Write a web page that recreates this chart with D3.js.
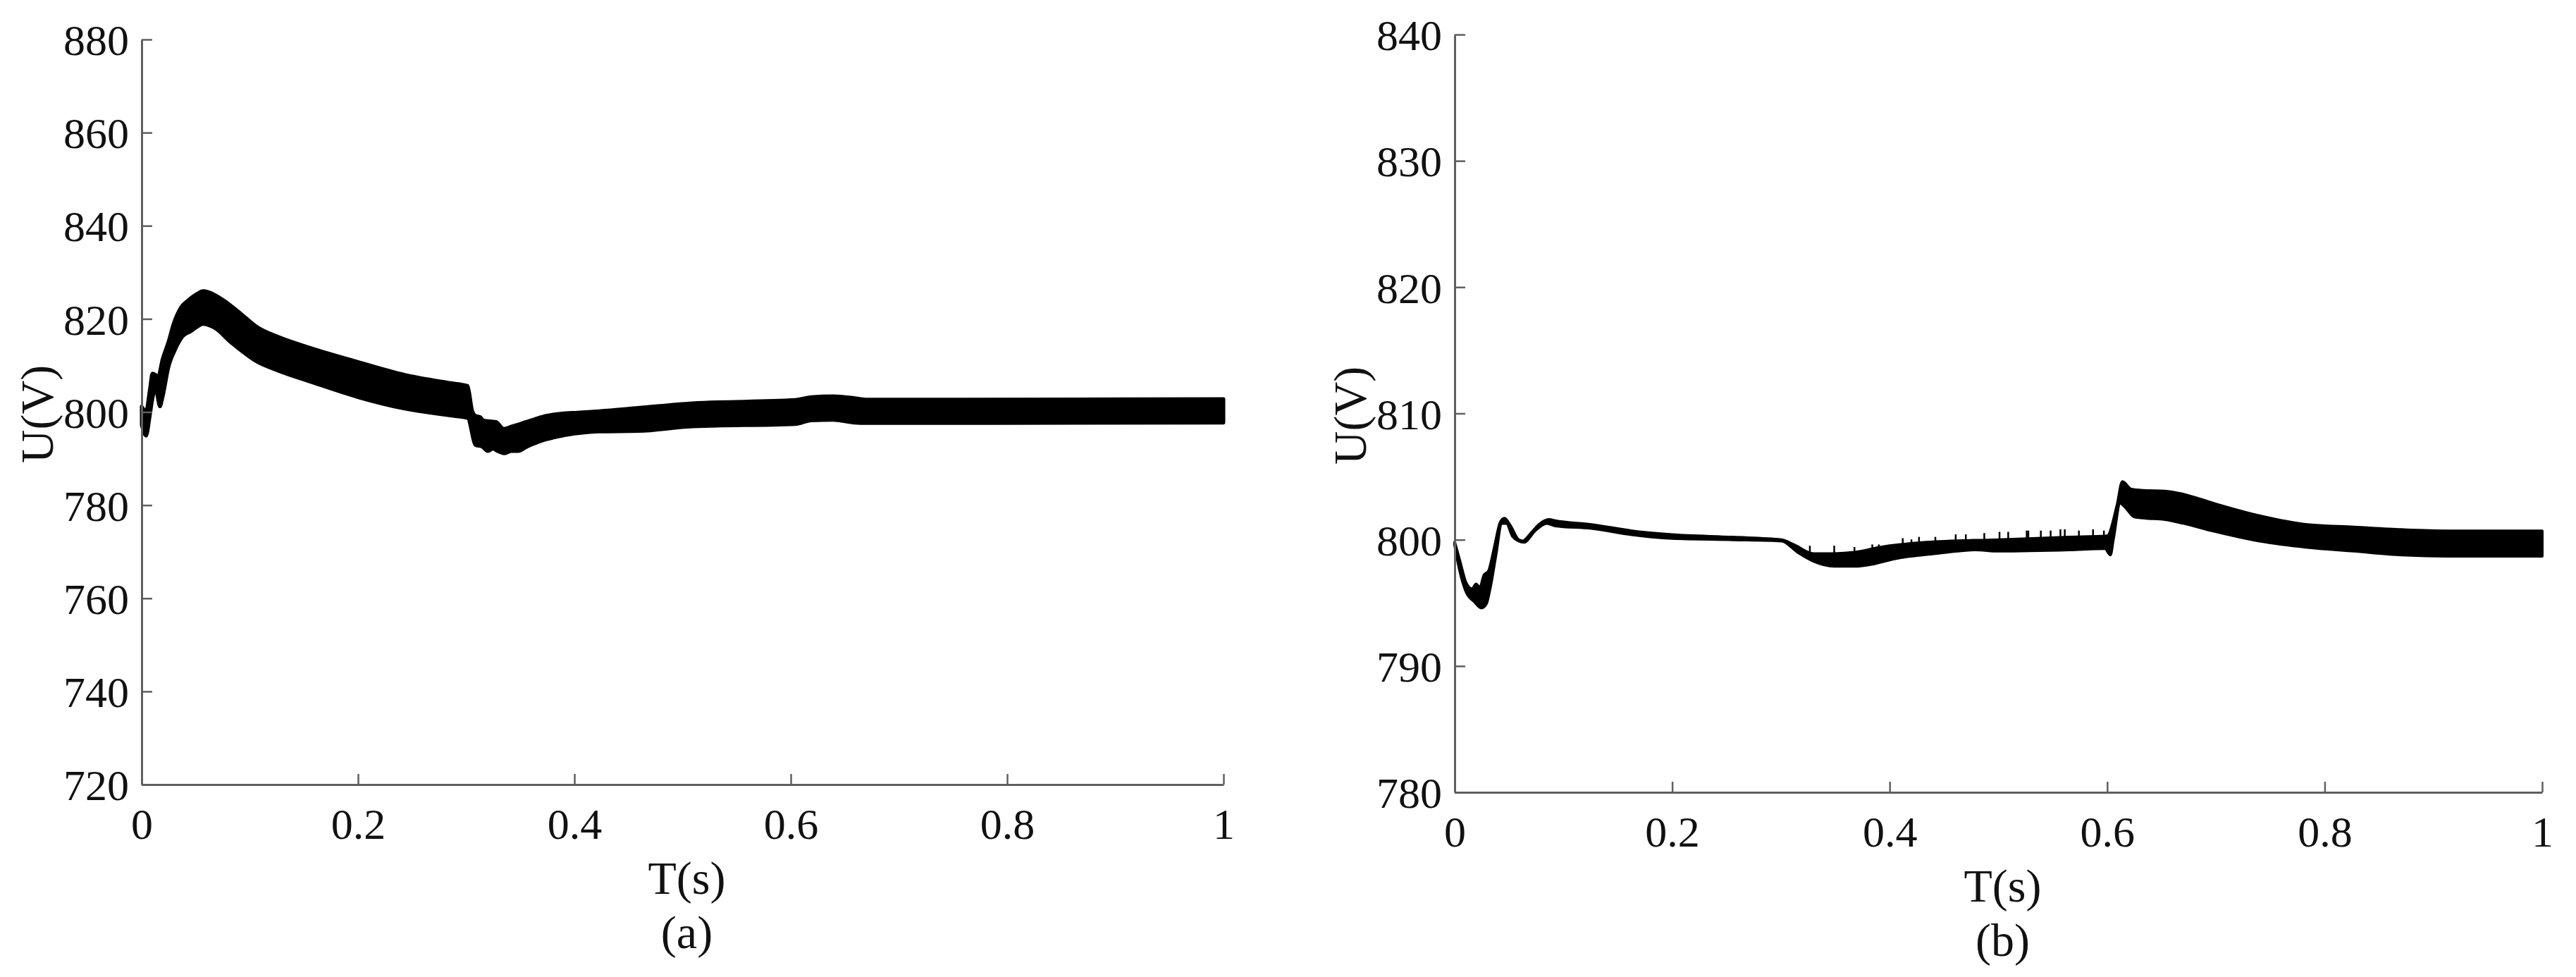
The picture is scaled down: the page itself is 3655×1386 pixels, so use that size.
<!DOCTYPE html>
<html>
<head>
<meta charset="utf-8">
<script src="https://cdn.jsdelivr.net/npm/d3@7"></script>
<style>
  html, body { margin: 0; padding: 0; background: #fff; }
  svg { display: block; }
</style>
</head>
<body>
<svg id="chart" width="3655" height="1386"></svg>
<script>
// ---------- DATA ----------
const xTicks = [0, 0.2, 0.4, 0.6, 0.8, 1];
const xTickLabels = ["0", "0.2", "0.4", "0.6", "0.8", "1"];
const aYTicks = [720, 740, 760, 780, 800, 820, 840, 860, 880];
const bYTicks = [780, 790, 800, 810, 820, 830, 840];

// (a) upper / lower envelope of U(V)
const aUpT = [0, 0.004, 0.0076, 0.0099, 0.0128, 0.0148, 0.0192, 0.025, 0.0294, 0.0367, 0.0425, 0.0512, 0.057, 0.0657, 0.0745, 0.0919, 0.1065, 0.1268, 0.1559, 0.1995, 0.2432, 0.2868, 0.2999, 0.3013, 0.3057, 0.3086, 0.313, 0.316, 0.3275, 0.3348, 0.342, 0.3595, 0.374, 0.3886, 0.403, 0.423, 0.459, 0.509, 0.604, 0.619, 0.639, 0.659, 0.669, 0.758, 1.0];
const aUpV = [801.2, 800.2, 805.0, 808.3, 808.0, 807.3, 811.3, 815.3, 818.9, 822.6, 823.9, 825.4, 826.0, 825.4, 824.2, 821.1, 818.3, 816.1, 813.8, 810.8, 808.0, 806.2, 805.7, 805.6, 800.2, 799.2, 798.9, 798.2, 797.9, 796.4, 796.9, 798.2, 799.2, 799.7, 799.9, 800.2, 800.9, 801.9, 802.6, 803.2, 803.4, 803.0, 802.7, 802.7, 802.8];
const aLoT = [0, 0.0041, 0.0076, 0.0099, 0.0128, 0.0169, 0.0192, 0.025, 0.0308, 0.0381, 0.0454, 0.057, 0.067, 0.0832, 0.1065, 0.1268, 0.1559, 0.1995, 0.2432, 0.2868, 0.3013, 0.3086, 0.3144, 0.32, 0.3246, 0.329, 0.3348, 0.342, 0.348, 0.3566, 0.374, 0.3886, 0.403, 0.423, 0.459, 0.509, 0.604, 0.619, 0.639, 0.659, 0.669, 1.0];
const aLoV = [797.2, 794.9, 799.2, 802.7, 805.0, 801.2, 803.0, 809.8, 813.3, 816.3, 817.3, 818.9, 818.1, 814.8, 810.8, 808.8, 806.5, 803.2, 800.7, 799.2, 798.7, 792.9, 792.6, 791.6, 792.1, 791.6, 791.1, 791.6, 791.6, 792.6, 794.1, 794.9, 795.4, 795.8, 795.9, 796.9, 797.4, 798.2, 798.3, 797.7, 797.6, 797.7];

// (b) upper / lower envelope of U(V)
const bUpT = [0, 0.0048, 0.0104, 0.016, 0.0197, 0.023, 0.027, 0.031, 0.0365, 0.042, 0.0458, 0.0513, 0.0588, 0.0625, 0.07, 0.0774, 0.0867, 0.0923, 0.1257, 0.163, 0.2, 0.256, 0.3006, 0.312, 0.33, 0.349, 0.3676, 0.391, 0.434, 0.5, 0.565, 0.6, 0.609, 0.614, 0.6222, 0.633, 0.653, 0.67, 0.697, 0.74, 0.784, 0.827, 0.871, 0.914, 1.0];
const bUpV = [799.8, 798.3, 796.6, 796.1, 796.5, 796.2, 797.2, 797.5, 799.4, 801.4, 801.7, 801.1, 800.0, 799.9, 800.5, 801.2, 801.6, 801.5, 801.2, 800.7, 800.4, 800.2, 800.0, 799.6, 798.9, 798.9, 799.0, 799.4, 799.8, 800.0, 800.2, 800.3, 802.7, 804.6, 804.0, 803.9, 803.85, 803.6, 802.9, 801.9, 801.2, 801.0, 800.8, 800.7, 800.7];
const bLoT = [0, 0.0048, 0.0104, 0.018, 0.0246, 0.029, 0.0327, 0.0383, 0.043, 0.0476, 0.053, 0.0588, 0.064, 0.0737, 0.0848, 0.0923, 0.1257, 0.163, 0.2, 0.256, 0.3006, 0.3155, 0.33, 0.349, 0.3676, 0.386, 0.405, 0.442, 0.479, 0.5, 0.565, 0.598, 0.603, 0.6056, 0.612, 0.6163, 0.6251, 0.636, 0.653, 0.67, 0.697, 0.74, 0.784, 0.827, 0.871, 0.914, 1.0];
const bLoV = [799.6, 797.5, 795.9, 795.1, 794.6, 794.9, 796.2, 799.0, 801.3, 801.3, 800.3, 799.9, 799.8, 800.7, 801.3, 801.1, 800.9, 800.4, 800.1, 800.0, 799.9, 799.0, 798.3, 797.9, 797.9, 798.1, 798.5, 798.9, 799.2, 799.1, 799.2, 799.3, 798.8, 800.0, 802.9, 802.6, 801.8, 801.7, 801.6, 801.3, 800.7, 799.9, 799.4, 799.1, 798.8, 798.7, 798.7];

// (b) narrow spikes on the upper edge between 0.32 s and 0.6 s
const bSpikeT = [0.3266, 0.349, 0.3676, 0.384, 0.39, 0.412, 0.42, 0.427, 0.442, 0.4607, 0.47, 0.487, 0.501, 0.509, 0.526, 0.5275, 0.539, 0.548, 0.557, 0.561, 0.574, 0.587, 0.597];
const bSpikeV = [799.3, 799.3, 799.2, 799.4, 799.4, 799.9, 799.8, 800.0, 800.0, 800.2, 800.2, 800.3, 800.4, 800.4, 800.5, 800.5, 800.5, 800.5, 800.6, 800.6, 800.5, 800.6, 800.5];

// ---------- DRAW ----------
const svg = d3.select("#chart");
const axisColor = "#5f5f5f";
const serif = "'Liberation Serif', 'Times New Roman', Times, serif";

function panel(cfg) {
  const x = d3.scaleLinear().domain([0, 1]).range([cfg.x0, cfg.x1]);
  const y = d3.scaleLinear().domain(cfg.yDomain).range([cfg.yBottom, cfg.yTop]);
  const g = svg.append("g");

  // envelope band: smooth upper edge forward, smooth lower edge backward
  const up = cfg.upT.map((t, i) => [t, cfg.upV[i]]);
  const lo = cfg.loT.map((t, i) => [t, cfg.loV[i]]).reverse();
  const line = d3.line().x(d => x(d[0])).y(d => y(d[1])).curve(d3.curveMonotoneX);
  const dUp = line(up);
  const dLo = line(lo);
  g.append("path")
    .attr("d", dUp + "L" + dLo.slice(1) + "Z")
    .attr("fill", "#000")
    .attr("stroke", "#000")
    .attr("stroke-width", cfg.strokeW)
    .attr("stroke-linejoin", "round");

  if (cfg.spikeT) {
    g.selectAll("line.spike").data(cfg.spikeT).enter().append("line")
      .attr("class", "spike")
      .attr("x1", d => x(d)).attr("x2", d => x(d))
      .attr("y1", (d, i) => y(cfg.spikeV[i]) - 4)
      .attr("y2", (d, i) => y(cfg.spikeV[i]) + 16)
      .attr("stroke", "#000").attr("stroke-width", 2.5);
  }

  // axes
  const xAxis = d3.axisBottom(x).tickValues(xTicks)
    .tickFormat((d, i) => xTickLabels[i])
    .tickSizeInner(-15).tickSizeOuter(0).tickPadding(33);
  const gx = g.append("g").attr("transform", `translate(0,${cfg.yBottom})`).call(xAxis);

  const yAxis = d3.axisLeft(y).tickValues(cfg.yTicks)
    .tickFormat(d3.format("d"))
    .tickSizeInner(-15).tickSizeOuter(0).tickPadding(18);
  const gy = g.append("g").attr("transform", `translate(${cfg.x0},0)`).call(yAxis);

  [gx, gy].forEach(a => {
    a.attr("font-family", serif).attr("font-size", 62);
    a.select(".domain").attr("stroke", axisColor).attr("stroke-width", 3);
    a.selectAll(".tick line").attr("stroke", axisColor).attr("stroke-width", 2.5);
    a.selectAll(".tick text").attr("font-family", serif).attr("font-size", 62).attr("fill", "#111");
  });
  gy.selectAll(".tick text").attr("dy", "0.35em");

  const cx = (cfg.x0 + cfg.x1) / 2 + 6;
  const lbl = (sel) => sel.attr("font-family", serif).attr("font-size", 66).attr("fill", "#111").attr("text-anchor", "middle");
  g.append("text").call(lbl)
    .attr("x", cx).attr("y", cfg.yBottom + 155)
    .text("T(s)");
  g.append("text").call(lbl)
    .attr("x", cx).attr("y", cfg.yBottom + 232)
    .text(cfg.caption);
  g.append("text").call(lbl)
    .attr("transform", `translate(${cfg.x0 - 126},${(cfg.yTop + cfg.yBottom) / 2 + 3}) rotate(-90)`)
    .text("U(V)");
}

panel({
  x0: 201, x1: 1736, yTop: 56, yBottom: 1113,
  yDomain: [720, 880], yTicks: aYTicks,
  upT: aUpT, upV: aUpV, loT: aLoT, loV: aLoV,
  strokeW: 5, caption: "(a)"
});

panel({
  x0: 2064, x1: 3607, yTop: 49, yBottom: 1124,
  yDomain: [780, 840], yTicks: bYTicks,
  upT: bUpT, upV: bUpV, loT: bLoT, loV: bLoV,
  spikeT: bSpikeT, spikeV: bSpikeV,
  strokeW: 4, caption: "(b)"
});
</script>
</body>
</html>
